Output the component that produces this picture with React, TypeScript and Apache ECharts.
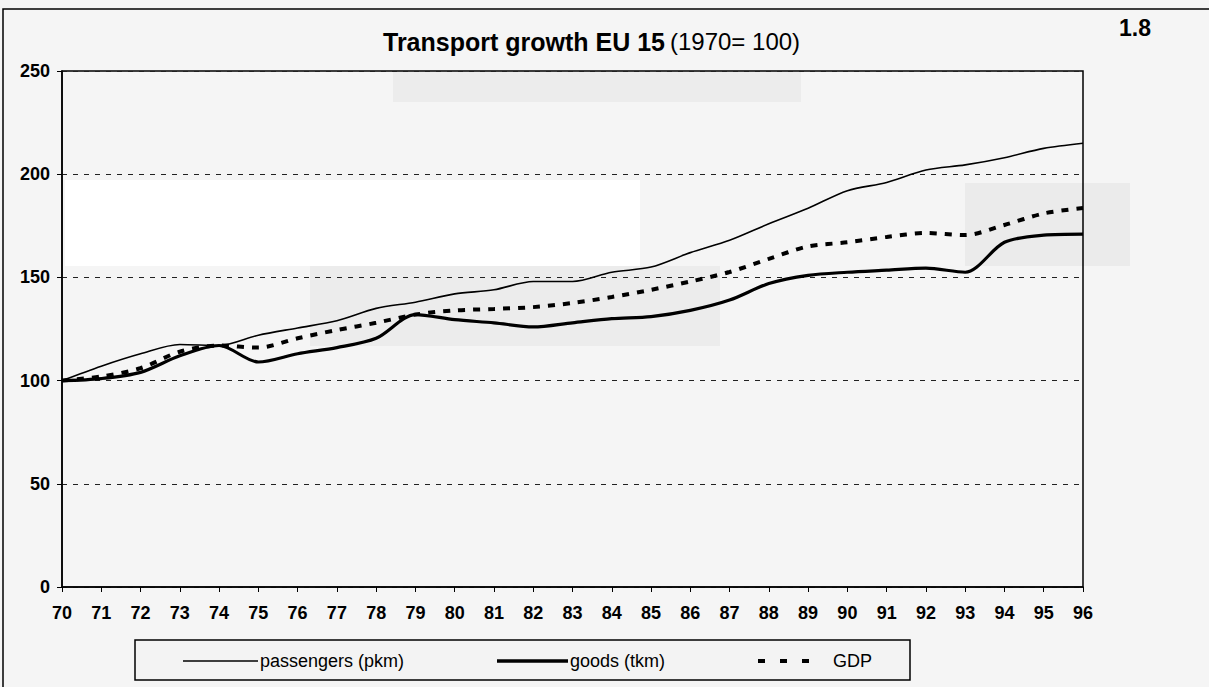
import React, { useEffect, useRef } from "react";
import * as echarts from "echarts";

const years = ["70","71","72","73","74","75","76","77","78","79","80","81","82","83","84","85","86","87","88","89","90","91","92","93","94","95","96"];
const passengers = [100,107,113,117.5,117,122,125.5,129,135,138,142,144,148,148,152.5,155,162,168,176,183.5,192,196,202,204.5,208,212.5,215];
const goods = [100,101,104,112,117,109,113,116,120.5,132,129.5,128,126,128,130,131,134,139,147,151,152.5,153.5,154.5,152.5,167,170.5,171];
const gdp = [100,102,106,114,117,116,120.5,124.5,128,132,134,134.7,135.6,137.6,140.5,144,148,152.6,159,165,167,169.6,171.5,170.5,175.4,181,183.6];
const seriesNames = ["passengers (pkm)", "goods (tkm)", "GDP"];

const FONT = "'Liberation Sans', Arial, sans-serif";

export default function App() {
  const ref = useRef<HTMLDivElement>(null);
  useEffect(() => {
    if (!ref.current) return;
    const chart = echarts.init(ref.current, undefined, { renderer: "svg" });
    chart.setOption({
      animation: false,
      backgroundColor: "#f5f5f5",
      textStyle: { fontFamily: FONT },
      title: {
        text: "{b|Transport growth EU 15} {n|(1970= 100)}",
        left: 378,
        top: 24,
        textStyle: {
          rich: {
            b: { fontFamily: FONT, fontWeight: "bold", fontSize: 25, color: "#000" },
            n: { fontFamily: FONT, fontWeight: "normal", fontSize: 24, color: "#000" },
          },
        },
      },
      grid: {
        left: 62,
        right: 126,
        top: 71,
        bottom: 100,
        show: true,
        borderColor: "#000",
        borderWidth: 1.5,
        backgroundColor: "transparent",
      },
      xAxis: {
        type: "category",
        data: years,
        boundaryGap: false,
        axisLine: { lineStyle: { color: "#000", width: 1.5 } },
        axisTick: { show: true, length: 5, lineStyle: { color: "#000" } },
        axisLabel: { color: "#000", fontWeight: "bold", fontSize: 18, margin: 17, fontFamily: FONT },
        splitLine: { show: false },
      },
      yAxis: {
        type: "value",
        min: 0,
        max: 250,
        interval: 50,
        axisLine: { show: true, lineStyle: { color: "#000", width: 1.5 } },
        axisTick: { show: true, length: 5, lineStyle: { color: "#000" } },
        axisLabel: { color: "#000", fontWeight: "bold", fontSize: 18, margin: 12, fontFamily: FONT },
        splitLine: { show: true, lineStyle: { color: "#222", width: 1, type: [5, 6] } },
      },
      series: [
        {
          name: seriesNames[0],
          type: "line",
          data: passengers,
          smooth: 0.3,
          symbol: "none",
          lineStyle: { color: "#000", width: 1.6 },
          z: 3,
        },
        {
          name: seriesNames[1],
          type: "line",
          data: goods,
          smooth: 0.3,
          symbol: "none",
          lineStyle: { color: "#000", width: 3.2 },
          z: 4,
        },
        {
          name: seriesNames[2],
          type: "line",
          data: gdp,
          smooth: 0.3,
          symbol: "none",
          lineStyle: { color: "#000", width: 4, type: [7, 8] },
          z: 5,
        },
      ],
      graphic: [
        { type: "rect", z: -10, silent: true, shape: { x: 393, y: 70, width: 408, height: 32 }, style: { fill: "#ececec" } },
        { type: "rect", z: -10, silent: true, shape: { x: 65, y: 180, width: 575, height: 86 }, style: { fill: "#ffffff" } },
        { type: "rect", z: -10, silent: true, shape: { x: 310, y: 266, width: 410, height: 80 }, style: { fill: "#ececec" } },
        { type: "rect", z: -10, silent: true, shape: { x: 965, y: 183, width: 165, height: 83 }, style: { fill: "#ebebeb" } },
        { type: "rect", z: -10, silent: true, shape: { x: 3, y: 9, width: 1220, height: 690 }, style: { fill: "none", stroke: "#000", lineWidth: 1.5 } },
        { type: "text", x: 1119, y: 16, style: { text: "1.8", font: `bold 23px ${FONT}`, fill: "#000" } },
        { type: "rect", shape: { x: 135, y: 640, width: 775, height: 40 }, style: { fill: "#f3f3f3", stroke: "#000", lineWidth: 1.5 } },
        { type: "line", shape: { x1: 183, y1: 661, x2: 258, y2: 661 }, style: { stroke: "#000", lineWidth: 1.6 } },
        { type: "text", x: 260, y: 661, style: { text: seriesNames[0], font: `18px ${FONT}`, fill: "#000", textVerticalAlign: "middle" } },
        { type: "line", shape: { x1: 497, y1: 661, x2: 568, y2: 661 }, style: { stroke: "#000", lineWidth: 3.5 } },
        { type: "text", x: 570, y: 661, style: { text: seriesNames[1], font: `18px ${FONT}`, fill: "#000", textVerticalAlign: "middle" } },
        { type: "line", shape: { x1: 758, y1: 661, x2: 818, y2: 661 }, style: { stroke: "#000", lineWidth: 4, lineDash: [7, 15] } },
        { type: "text", x: 833, y: 661, style: { text: seriesNames[2], font: `18px ${FONT}`, fill: "#000", textVerticalAlign: "middle" } },
      ],
    });
    return () => chart.dispose();
  }, []);
  return (
    <div
      ref={ref}
      style={{ position: "fixed", left: 0, top: 0, width: 1209, height: 687 }}
    />
  );
}
